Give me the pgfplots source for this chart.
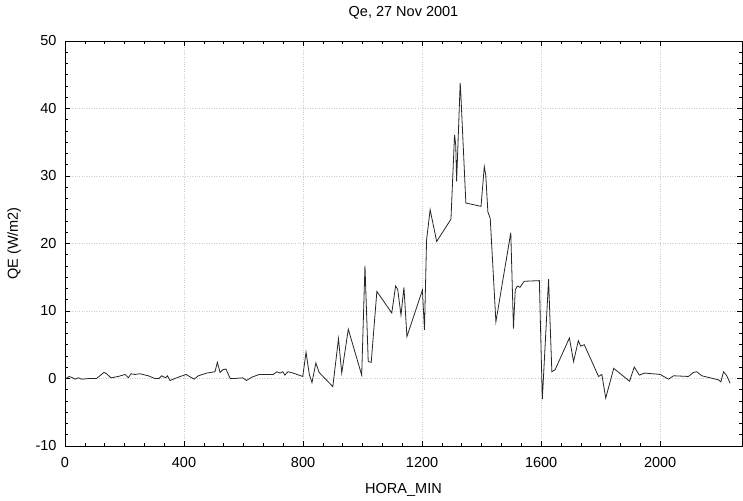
\documentclass[border=0pt]{standalone}
\usepackage{pgfplots}
\pgfplotsset{compat=1.18}
\usepackage{fontspec}
\setmainfont{Liberation Sans}

% Latent heat flux QE over the day (HORA_MIN = hour*100 + minute)
\pgfplotstableread{
hm qe
0 -0.1
14 0.3
26 0.1
34 -0.1
45 0.1
56 -0.1
84 0.0
106 0.0
131 0.9
140 0.7
154 0.1
179 0.3
202 0.6
213 0.1
222 0.7
235 0.6
252 0.7
280 0.4
302 0.0
316 0.0
325 0.4
338 0.1
344 0.4
353 -0.3
381 0.2
407 0.6
418 0.3
434 -0.1
448 0.4
476 0.8
504 1.0
512 2.4
521 0.9
530 1.3
541 1.4
555 0.0
571 0.0
597 0.1
610 -0.3
628 0.2
653 0.6
683 0.6
700 0.6
712 1.0
723 0.8
732 1.0
739 0.5
749 1.0
767 0.8
799 0.3
810 3.9
821 0.6
830 -0.6
843 2.3
854 0.9
900 -1.2
919 5.9
930 0.8
952 7.3
997 0.5
1008 16.7
1019 2.5
1029 2.4
1048 12.9
1098 9.7
1111 13.7
1118 13.2
1129 9.4
1139 13.5
1149 6.2
1201 13.1
1208 7.2
1215 20.5
1227 25.0
1249 20.3
1297 23.6
1309 36.1
1313 34.6
1316 29.2
1328 43.8
1330 42.3
1347 26.0
1398 25.5
1409 31.4
1414 30.1
1421 24.7
1429 23.7
1448 8.4
1498 21.6
1507 7.4
1513 13.1
1520 13.7
1529 13.5
1543 14.4
1594 14.5
1604 -3.1
1625 14.7
1636 1.0
1647 1.3
1695 6.0
1709 2.5
1725 5.6
1733 4.8
1745 5.0
1793 0.3
1804 0.6
1817 -2.9
1844 1.5
1897 -0.4
1913 1.7
1930 0.5
1948 0.8
2000 0.6
2028 -0.1
2045 0.4
2095 0.3
2112 0.9
2123 1.0
2140 0.4
2196 -0.2
2204 -0.5
2213 1.0
2224 0.4
2235 -0.7
}\qedata

\newcommand{\chartfont}{\fontsize{14.5}{17}\selectfont}

\begin{document}
\begin{tikzpicture}
\begin{axis}[
  name=ax,
  scale only axis,
  width=677pt, height=405pt,
  xmin=0, xmax=2275,
  ymin=-10, ymax=50,
  xtick={0,400,...,2000},
  ytick={-10,0,...,50},
  minor x tick num=5,
  minor y tick num=5,
  tick align=inside,
  xtick pos=both, ytick pos=both,
  major tick length=5pt,
  minor tick length=3pt,
  tick style={black, line width=0.6pt},
  axis line style={black, line width=0.8pt},
  grid=major,
  major grid style={dotted, gray!40, line width=0.6pt},
  /pgf/number format/assume math mode=true,
  /pgf/number format/1000 sep={},
  ticklabel style={font=\chartfont},
  yticklabel style={xshift=-5pt},
  xticklabel style={yshift=-8pt},
]
\addplot[black!85, line width=0.8pt, mark=none] table[x=hm, y=qe] {\qedata};
\end{axis}

\node[anchor=base, font=\chartfont] at ([yshift=24pt]ax.north) {Qe, 27 Nov 2001};
\node[anchor=base, font=\chartfont] at ([yshift=-48pt]ax.south) {HORA\_MIN};
\node[rotate=90, anchor=base, font=\chartfont] at ([xshift=-47pt]ax.west) {QE (W/m2)};

\pgfresetboundingbox
\path[use as bounding box] ([xshift=-65pt,yshift=-55pt]ax.south west) rectangle ([xshift=1pt,yshift=41pt]ax.north east);
\end{tikzpicture}
\end{document}
